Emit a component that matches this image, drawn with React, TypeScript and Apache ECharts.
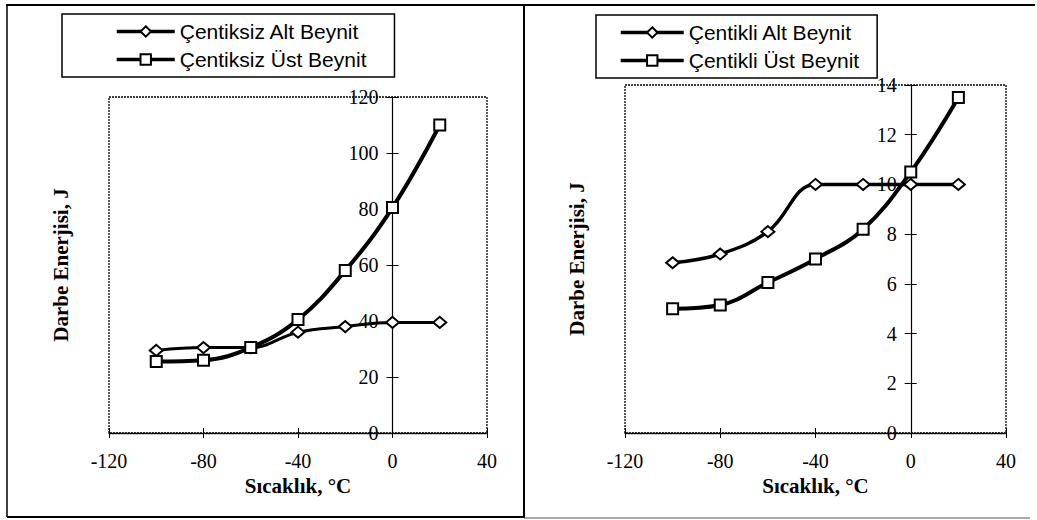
import React, { useEffect, useRef } from 'react';
import * as echarts from 'echarts';

const temps = [-100, -80, -60, -40, -20, 0, 20];
const leftAlt = [29.5, 30.5, 30.5, 36, 38, 39.5, 39.5];
const leftUst = [25.5, 26, 30.5, 40.5, 58, 80.5, 110];
const rightAlt = [6.85, 7.2, 8.1, 10, 10, 10, 10];
const rightUst = [5, 5.15, 6.05, 7, 8.2, 10.5, 13.5];
const leftNames = ['Çentiksiz Alt Beynit', 'Çentiksiz Üst Beynit'];
const rightNames = ['Çentikli Alt Beynit', 'Çentikli Üst Beynit'];
const xTitle = 'Sıcaklık, °C';
const yTitle = 'Darbe Enerjisi, J';
const xMin = -120;
const xMax = 40;
const xStep = 40;
const leftYMax = 120;
const leftYStep = 20;
const rightYMax = 14;
const rightYStep = 2;

const SERIF = '"Liberation Serif", "Times New Roman", serif';
const SANS = '"Liberation Sans", Arial, sans-serif';

const gridL = { left: 109, width: 378, top: 97, bottom: 87 };
const gridR = { left: 625, width: 381, top: 85, bottom: 87 };

function xAxes(gridIndex: number) {
  return [
    {
      gridIndex, type: 'value', min: xMin, max: xMax, interval: xStep, position: 'bottom',
      axisLine: { onZero: false, lineStyle: { color: '#000', width: 1.3, type: [2, 1] } },
      axisTick: { show: true, length: 5, lineStyle: { color: '#000', width: 1 } },
      axisLabel: { fontFamily: SERIF, fontSize: 20, color: '#000', margin: 18 },
      splitLine: { show: false },
      name: xTitle, nameLocation: 'middle', nameGap: 37,
      nameTextStyle: { fontFamily: SERIF, fontWeight: 'bold', fontSize: 21, color: '#000' },
    },
    {
      gridIndex, type: 'value', min: xMin, max: xMax, interval: xStep, position: 'bottom',
      axisLine: { show: false, onZero: false },
      axisTick: { show: true, inside: true, length: 5, lineStyle: { color: '#000', width: 1 } },
      axisLabel: { show: false },
      splitLine: { show: false },
    },
  ];
}

function yAxes(gridIndex: number, max: number, step: number, gridWidth: number) {
  const zeroOffset = -gridWidth * (0 - xMin) / (xMax - xMin);
  return [
    {
      gridIndex, type: 'value', min: 0, max, interval: step, position: 'left', offset: zeroOffset,
      axisLine: { show: true, onZero: false, lineStyle: { color: '#000', width: 1.2 } },
      axisTick: { show: true, length: 6, lineStyle: { color: '#000', width: 1 } },
      axisLabel: { fontFamily: SERIF, fontSize: 20, color: '#000', margin: 14 },
      splitLine: { show: false },
    },
    {
      gridIndex, type: 'value', min: 0, max, interval: step, position: 'left', offset: zeroOffset,
      axisLine: { show: false, onZero: false },
      axisTick: { show: true, inside: true, length: 6, lineStyle: { color: '#000', width: 1 } },
      axisLabel: { show: false },
      splitLine: { show: false },
    },
    {
      gridIndex, type: 'value', min: 0, max, interval: step, position: 'left',
      axisLine: { show: false, onZero: false },
      axisTick: { show: false },
      axisLabel: { show: false },
      splitLine: { show: false },
      name: yTitle, nameLocation: 'middle', nameGap: 38, nameRotate: 90,
      nameTextStyle: { fontFamily: SERIF, fontWeight: 'bold', fontSize: 21, color: '#000' },
    },
  ];
}

function lineSeries(name: string, values: number[], xi: number, yi: number, symbol: string, size: any, width: number) {
  return {
    type: 'line', name, xAxisIndex: xi, yAxisIndex: yi,
    data: temps.map((t, i) => [t, values[i]]),
    smooth: 0.4, symbol, symbolSize: size, showSymbol: true,
    lineStyle: { color: '#000', width },
    itemStyle: { color: '#fff', borderColor: '#000', borderWidth: 2 },
  };
}

function legend(names: string[], left: number, top: number, itemWidth: number, padding: number[]) {
  return {
    data: names, orient: 'vertical', left, top, itemWidth, itemHeight: 13, itemGap: 7,
    padding, borderColor: '#000', borderWidth: 1.5, selectedMode: false,
    lineStyle: { width: 3.5, color: '#000' },
    itemStyle: { color: '#fff', borderColor: '#000', borderWidth: 2 },
    textStyle: { fontFamily: SANS, fontSize: 21, color: '#000' },
  };
}

export default function App() {
  const ref = useRef<HTMLDivElement>(null);
  useEffect(() => {
    if (!ref.current) return;
    const chart = echarts.init(ref.current, undefined, { renderer: 'svg' });
    const frame = { stroke: '#000' };
    const gridBorder = { show: true, borderColor: '#000', borderWidth: 1.3, borderType: [2, 1] };
    chart.setOption({
      animation: false,
      backgroundColor: '#fff',
      grid: [
        { ...gridL, ...gridBorder },
        { ...gridR, ...gridBorder },
      ],
      xAxis: [...xAxes(0), ...xAxes(1)],
      yAxis: [...yAxes(0, leftYMax, leftYStep, gridL.width), ...yAxes(1, rightYMax, rightYStep, gridR.width)],
      legend: [
        legend(leftNames, 62, 14, 58, [7, 28, 7, 53]),
        legend(rightNames, 596, 15, 63, [7, 18, 7, 23]),
      ],
      series: [
        lineSeries(leftNames[0], leftAlt, 0, 0, 'diamond', [13, 11], 3),
        lineSeries(leftNames[1], leftUst, 0, 0, 'rect', 11, 4),
        lineSeries(rightNames[0], rightAlt, 2, 3, 'diamond', [13, 11], 3.5),
        lineSeries(rightNames[1], rightUst, 2, 3, 'rect', 11, 4),
      ],
      graphic: [
        { type: 'line', shape: { x1: 6, y1: 5, x2: 1035, y2: 5 }, style: { ...frame, lineWidth: 2 } },
        { type: 'line', shape: { x1: 7, y1: 5, x2: 7, y2: 517 }, style: { ...frame, lineWidth: 1.5 } },
        { type: 'line', shape: { x1: 524, y1: 5, x2: 524, y2: 518 }, style: { ...frame, lineWidth: 2 } },
        { type: 'line', shape: { x1: 7, y1: 517, x2: 524, y2: 517 }, style: { ...frame, lineWidth: 2 } },
        { type: 'line', shape: { x1: 524, y1: 518, x2: 1030, y2: 518 }, style: { stroke: '#555', lineWidth: 1 } },
      ],
    });
    return () => chart.dispose();
  }, []);
  return <div ref={ref} style={{ position: 'absolute', left: 0, top: 0, width: 1037, height: 520 }} />;
}
